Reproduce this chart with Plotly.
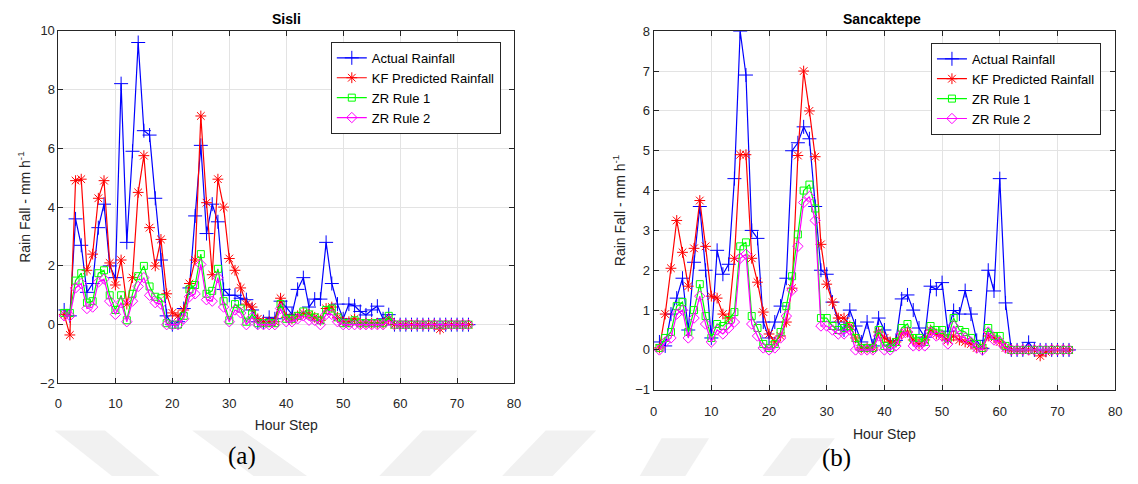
import plotly.graph_objects as go

hours = list(range(1, 73))

# ---- Sisli (a) ----
sisli_actual = [0.5, 0.3, 3.6, 2.7, 1.1, 1.4, 3.3, 4.1, 2.0, 1.6,
                8.2, 2.8, 5.9, 9.6, 6.6, 6.45, 4.3, 2.2, 0.3, 0.0,
                0.1, 0.55, 1.25, 3.7, 6.1, 3.1, 4.1, 3.5, 1.2, 1.0,
                1.0, 0.9, 0.85, 0.5, 0.1, 0.1, 0.25, 0.2, 0.8, 0.6,
                0.35, 1.2, 1.6, 0.6, 0.87, 0.87, 2.8, 1.4, 0.7, 0.2,
                0.7, 0.64, 0.45, 0.33, 0.5, 0.63, 0.2, 0.34, 0.0, 0.0,
                0.0, 0.0, 0.0, 0.0, 0.0, 0.0, 0.0, 0.0, 0.0, 0.0,
                0.0, 0.0]
sisli_kf = [0.35, -0.35, 4.9, 4.95, 1.85, 2.4, 4.3, 4.9, 2.1, 1.35,
            2.2, 0.7, 1.6, 4.5, 5.75, 3.3, 2.0, 2.9, 1.05, 0.4,
            0.3, 0.5, 1.4, 2.2, 7.1, 4.15, 1.7, 4.95, 4.0, 2.25,
            1.85, 1.25, 0.7, 0.6, 0.2, 0.1, 0.1, 0.1, 0.9, 0.25,
            0.2, 0.3, 0.4, 0.35, 0.25, 0.15, 0.55, 0.6, 0.25, 0.1,
            0.1, 0.2, 0.05, 0.05, 0.05, 0.05, 0.05, 0.2, 0.0, 0.0,
            0.0, 0.0, 0.0, 0.0, 0.0, 0.0, -0.15, 0.0, 0.0, 0.0,
            0.0, 0.0]
sisli_zr1 = [0.4, 0.4, 1.5, 1.75, 0.75, 0.8, 1.75, 1.85, 1.0, 0.5,
             1.0, 0.15, 1.05, 1.65, 2.0, 1.3, 0.95, 0.9, 0.05, 0.0,
             0.0, 0.3, 1.2, 1.35, 2.4, 1.05, 1.15, 1.9, 0.8, 0.15,
             0.7, 0.55, 0.1, 0.35, 0.05, 0.05, 0.05, 0.05, 0.7, 0.2,
             0.2, 0.3, 0.45, 0.35, 0.25, 0.15, 0.5, 0.55, 0.25, 0.05,
             0.05, 0.15, 0.05, 0.05, 0.05, 0.05, 0.05, 0.3, 0.0, 0.0,
             0.0, 0.0, 0.0, 0.0, 0.0, 0.0, 0.0, 0.0, 0.0, 0.0,
             0.0, 0.0]
sisli_zr2 = [0.3, 0.3, 1.25, 1.4, 0.55, 0.6, 1.45, 1.55, 0.8, 0.35,
             0.75, 0.1, 0.8, 1.3, 1.6, 1.0, 0.75, 0.7, 0.0, 0.0,
             0.0, 0.2, 0.95, 1.05, 2.05, 0.85, 0.8, 1.6, 0.6, 0.1,
             0.5, 0.4, 0.0, 0.25, 0.0, 0.0, 0.0, 0.0, 0.55, 0.1,
             0.1, 0.2, 0.3, 0.15, 0.15, 0.0, 0.35, 0.35, 0.1, 0.0,
             0.0, 0.0, 0.0, 0.0, 0.0, 0.0, 0.0, 0.15, 0.0, 0.0,
             0.0, 0.0, 0.0, 0.0, 0.0, 0.0, 0.0, 0.0, 0.0, 0.0,
             0.0, 0.0]

# ---- Sancaktepe (b) ----
sanc_actual = [0.2, 0.1, 0.9, 1.3, 1.8, 0.5, 2.2, 3.6, 2.0, 0.3,
               2.5, 1.9, 2.15, 4.3, 8.0, 6.9, 3.0, 2.8, 0.7, 0.3,
               0.7, 1.1, 1.8, 5.0, 5.2, 5.6, 5.3, 3.6, 2.0, 1.9,
               1.2, 0.7, 0.5, 1.0, 0.6, 0.2, 0.7, 0.1, 0.8, 0.5,
               0.12, 0.24, 1.28, 1.38, 1.0, 0.55, 0.32, 1.6, 1.52, 1.69,
               0.47, 0.99, 0.9, 1.49, 0.9, 0.24, 0.04, 2.0, 1.48, 4.3,
               1.18, 0.0, 0.0, 0.0, 0.19, 0.0, 0.0, 0.0, 0.0, 0.0,
               0.0, 0.0]
sanc_kf = [0.05, 0.9, 2.05, 3.25, 2.45, 1.6, 2.55, 3.75, 2.6, 1.35,
           1.3, 0.9, 0.8, 2.3, 4.9, 4.9, 2.3, 1.7, 0.95, 0.4,
           0.2, 0.35, 0.7, 1.55, 4.88, 7.0, 6.0, 4.85, 2.65, 1.65,
           1.2, 0.8, 0.8, 0.6, 0.3, 0.05, 0.05, 0.05, 0.45, 0.3,
           0.2, 0.2, 0.4, 0.45, 0.25, 0.15, 0.25, 0.5, 0.4, 0.35,
           0.25, 0.35, 0.25, 0.2, 0.15, 0.05, 0.05, 0.35, 0.3, 0.2,
           0.05, 0.0, 0.0, 0.0, 0.0, 0.0, -0.15, -0.05, 0.0, 0.0,
           0.0, 0.0]
sanc_zr1 = [0.05, 0.3, 0.45, 1.1, 1.2, 0.45, 1.0, 1.65, 0.85, 0.3,
            0.65, 0.6, 0.75, 0.95, 2.6, 2.7, 0.85, 0.55, 0.15, 0.05,
            0.15, 0.45, 1.1, 1.85, 2.9, 4.0, 4.15, 3.55, 0.8, 0.8,
            0.6, 0.5, 0.55, 0.6, 0.3, 0.05, 0.05, 0.05, 0.5, 0.1,
            0.05, 0.2, 0.55, 0.65, 0.3, 0.3, 0.2, 0.6, 0.5, 0.5,
            0.3, 0.8, 0.5, 0.45, 0.3, 0.15, 0.05, 0.55, 0.35, 0.35,
            0.1, 0.0, 0.0, 0.0, 0.0, 0.0, 0.0, 0.0, 0.0, 0.0,
            0.0, 0.0]
sanc_zr2 = [0.0, 0.2, 0.3, 0.9, 1.0, 0.3, 0.8, 1.35, 0.65, 0.2,
            0.5, 0.4, 0.55, 0.7, 2.3, 2.4, 0.65, 0.35, 0.05, 0.0,
            0.05, 0.3, 0.85, 1.5, 2.6, 3.7, 3.85, 3.25, 0.6, 0.6,
            0.5, 0.4, 0.4, 0.5, 0.0, 0.0, 0.0, 0.0, 0.35, 0.0,
            0.0, 0.1, 0.4, 0.45, 0.1, 0.1, 0.1, 0.45, 0.35, 0.35,
            0.15, 0.6, 0.35, 0.3, 0.2, 0.05, 0.0, 0.45, 0.25, 0.2,
            0.05, 0.0, 0.0, 0.0, 0.0, 0.0, 0.0, 0.0, 0.0, 0.0,
            0.0, 0.0]

series_names = ["Actual Rainfall", "KF Predicted Rainfall", "ZR Rule 1", "ZR Rule 2"]
colors = ["#0000ff", "#ff0000", "#00ff00", "#ff00ff"]
symbols = ["cross-thin-open", "asterisk-open", "square-open", "diamond-open"]
sizes = [10, 9, 7, 8]

W, H = 1138, 484
FONT = "Liberation Sans, Arial, sans-serif"
SERIF = "Liberation Serif, Times New Roman, serif"
TICKC = "#262626"

fig = go.Figure()

panels = [
    ([sisli_actual, sisli_kf, sisli_zr1, sisli_zr2], "x", "y", "legend"),
    ([sanc_actual, sanc_kf, sanc_zr1, sanc_zr2], "x2", "y2", "legend2"),
]
for data, xa, ya, lg in panels:
    for vals, name, c, s, sz in zip(data, series_names, colors, symbols, sizes):
        fig.add_trace(go.Scatter(
            x=hours, y=vals, name=name, mode="lines+markers",
            line=dict(color=c, width=1.2),
            marker=dict(symbol=s, size=sz, color=c, line=dict(color=c, width=1)),
            xaxis=xa, yaxis=ya, legend=lg, showlegend=True,
        ))


def px_x(p):
    return p / W


def px_y(p):
    return 1 - p / H


axis_common = dict(
    showline=True, linecolor=TICKC, linewidth=1, mirror="allticks",
    ticks="inside", ticklen=5, tickcolor=TICKC,
    showgrid=True, gridcolor="#e3e3e3", gridwidth=1, zeroline=False,
    tickfont=dict(family=FONT, size=13, color=TICKC),
)
xtitle = dict(text="Hour Step", font=dict(family=FONT, size=14, color=TICKC), standoff=10)
ytitle = dict(text="Rain Fall - mm h<sup>-1</sup>", font=dict(family=FONT, size=14, color=TICKC), standoff=6)

# faint background watermark stripes (pixel polygons, top-left/top-right/bottom-right/bottom-left)
stripes = [
    (437, [(51, 102), (109, 157)]),
    (437, [(190, 241), (252, 306)]),
    (437, [(423, 478), (379, 430)]),
    (437, [(547, 598), (503, 554)]),
    (445, [(664, 712), (642, 688)]),
    (445, [(795, 839), (766, 810)]),
]
shapes = []
for ytop, ((tl, tr), (bl, br)) in stripes:
    path = (f"M {px_x(tl)} {px_y(ytop)} L {px_x(tr)} {px_y(ytop)} "
            f"L {px_x(br)} {px_y(H)} L {px_x(bl)} {px_y(H)} Z")
    shapes.append(dict(type="path", path=path, xref="paper", yref="paper",
                       fillcolor="#f1f1f1", line=dict(width=0), layer="below"))

fig.update_layout(
    width=W, height=H,
    margin=dict(l=0, r=0, t=0, b=0),
    paper_bgcolor="white", plot_bgcolor="white",
    font=dict(family=FONT, color=TICKC),
    shapes=shapes,
    xaxis=dict(domain=[px_x(55), px_x(515)], range=[0, 80], dtick=10, anchor="y",
               title=xtitle, ticklabelstandoff=8, **axis_common),
    yaxis=dict(domain=[px_y(388.5), px_y(24.5)], range=[-2, 10], dtick=2, anchor="x",
               title=ytitle, **axis_common),
    xaxis2=dict(domain=[px_x(656), px_x(1122)], range=[0, 80], dtick=10, anchor="y2",
                title=xtitle, ticklabelstandoff=10, **axis_common),
    yaxis2=dict(domain=[px_y(395), px_y(25)], range=[-1, 8], dtick=1, anchor="x2",
                title=ytitle, **axis_common),
    legend=dict(x=px_x(330), y=px_y(36), xanchor="left", yanchor="top",
                bgcolor="white", bordercolor="#262626", borderwidth=1,
                font=dict(family=FONT, size=13, color="black"), tracegroupgap=0,
                itemwidth=30),
    legend2=dict(x=px_x(936), y=px_y(37), xanchor="left", yanchor="top",
                 bgcolor="white", bordercolor="#262626", borderwidth=1,
                 font=dict(family=FONT, size=13, color="black"), tracegroupgap=0,
                 itemwidth=30),
    annotations=[
        dict(text="<b>Sisli</b>", x=px_x(285), y=px_y(12), xref="paper", yref="paper",
             xanchor="center", yanchor="middle",
             showarrow=False, font=dict(family=FONT, size=14, color="black")),
        dict(text="<b>Sancaktepe</b>", x=px_x(887), y=px_y(12), xref="paper", yref="paper",
             xanchor="center", yanchor="middle",
             showarrow=False, font=dict(family=FONT, size=14, color="black")),
        dict(text="(a)", x=px_x(240), y=px_y(463), xref="paper", yref="paper",
             xanchor="center", yanchor="middle",
             showarrow=False, font=dict(family=SERIF, size=25, color="black")),
        dict(text="(b)", x=px_x(841), y=px_y(465), xref="paper", yref="paper",
             xanchor="center", yanchor="middle",
             showarrow=False, font=dict(family=SERIF, size=25, color="black")),
    ],
)

fig.write_html("out.html")
